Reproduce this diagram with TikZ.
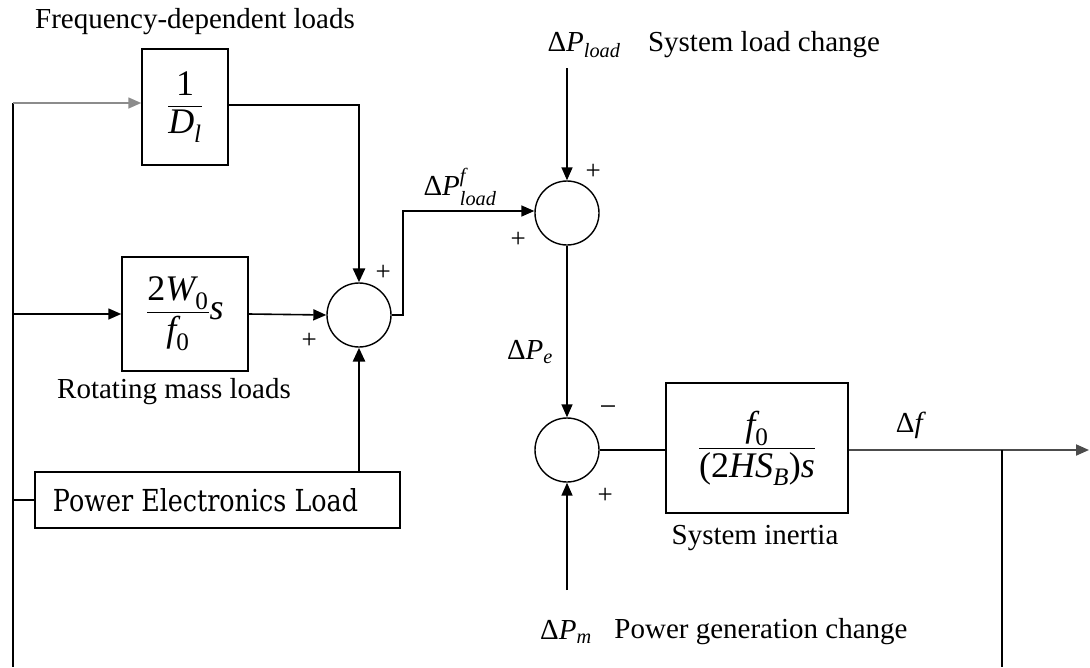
\documentclass[tikz,border=0pt]{standalone}
\usepackage{amsmath}
\usepackage{fontspec}
\setmainfont{Liberation Serif}
\newfontfamily\pefont{DejaVu Serif}
\usepackage{graphicx}
\usetikzlibrary{arrows.meta}
\newcommand{\ti}[1]{\textit{#1}}
\newcommand{\tr}[1]{\textrm{#1}}
\tikzset{
  blk/.style={draw, line width=1.5pt, inner sep=0pt, anchor=center},
  mathblk/.style={blk, font=\fontsize{36}{40}\selectfont},
  sumc/.style={draw, circle, line width=1.4pt, minimum size=64pt, inner sep=0pt},
  lbl/.style={inner sep=0pt, anchor=center},
  pls/.style={inner sep=0pt, font=\fontsize{27}{29}\selectfont\itshape},
  conn/.style={line width=1.6pt, -{Triangle[length=13pt,width=11pt]}},
  tconn/.style={line width=2.8pt, -{Triangle[length=14pt,width=12pt]}},
  wire/.style={line width=1.6pt},
}
\begin{document}
\begin{tikzpicture}[x=1pt,y=-1pt,font=\fontsize{29}{33}\selectfont]
\useasboundingbox (0,0) rectangle (1090,667);
% texts
\node[lbl] (fd) at (195,22) {Frequency-dependent loads};
\node[lbl] (rml) at (174,392) {Rotating mass loads};
\node[lbl] (si) at (755,538) {System inertia};
\node[lbl] (dpl) at (584,45) {Δ\ti{P}$_{\ti{load}}$};
\node[lbl] (slc) at (764,45) {System load change};
\node[lbl] (dplf) at (460,187) {Δ\ti{P}$^{\ti{f}}_{\ti{load}}$};
\node[lbl] (dpe) at (530,352) {Δ\ti{P}$_{\ti{e}}$};
\node[lbl] (df) at (911,425) {Δ\ti{f}};
\node[lbl] (dpm) at (566,632) {Δ\ti{P}$_{\ti{m}}$};
\node[lbl] (pgc) at (761,632) {Power generation change};
% blocks
\node[mathblk, minimum width=86pt, minimum height=116pt] (b1) at (185,107) {$\dfrac{\tr{1}}{\ti{D}_{\ti{l}}}$};
\node[mathblk, minimum width=126pt, minimum height=114pt] (b2) at (185,314) {$\dfrac{\tr{2}\ti{W}_{\tr{0}}}{\ti{f}_{\tr{0}}}\ti{s}$};
\node[blk, minimum width=365pt, minimum height=56pt] (pe) at (217.5,500) {\resizebox{305pt}{23pt}{\pefont Power Electronics Load}\hspace*{24pt}};
\node[mathblk, minimum width=182pt, minimum height=130pt] (b3) at (757,448) {$\dfrac{\ti{f}_{\tr{0}}}{\tr{(2}\ti{HS}_{\ti{B}}\tr{)}\ti{s}}$};
% summing junctions
\node[sumc] (s1) at (359,315) {};
\node[sumc] (s2) at (567,213) {};
\node[sumc] (s3) at (567,450) {};
% signs
\node[pls] (p1a) at (383,273) {+};
\node[pls] (p1b) at (309,341) {+};
\node[pls] (p2a) at (593,172) {+};
\node[pls] (p2b) at (518,240) {+};
\node[pls, font=\fontsize{30}{32}\selectfont] (p3a) at (608,411) {−};
\node[pls] (p3b) at (605,496) {+};
% coordinates
\coordinate (lt) at (13,103);
\coordinate (lb) at (13,667);
\coordinate (l2) at (13,314);
\coordinate (l3) at (13,500);
\coordinate (k1) at (359,105);
\coordinate (k2) at (403,315);
\coordinate (k3) at (403,211);
\coordinate (in1) at (567,68);
\coordinate (in2) at (567,590);
\coordinate (out) at (1089,450);
\coordinate (br) at (1002,450);
\coordinate (brb) at (1002,667);
% connectors
\draw[wire] (lt) -- (lb);
\draw[conn, draw=black!45] (lt) -- (b1.west |- lt);
\draw[tconn] (b1.east |- k1) -- (k1) -- (s1.north);
\draw[conn] (l2) -- (b2.west);
\draw[conn] (b2.east) -- (s1.west);
\draw[wire] (l3) -- (pe.west);
\draw[tconn] (pe.north -| s1) -- (s1.south);
\draw[conn] (s1.east) -- (k2) -- (k3) -- (s2.west |- k3);
\draw[conn] (in1) -- (s2.north);
\draw[conn] (s2.south) -- (s3.north);
\draw[conn] (in2) -- (s3.south);
\draw[wire] (s3.east) -- (b3.west |- s3);
\draw[conn, line width=2pt, draw=black!70] (b3.east |- out) -- (out);
\draw[wire] (br) -- (brb);
\end{tikzpicture}
\end{document}
